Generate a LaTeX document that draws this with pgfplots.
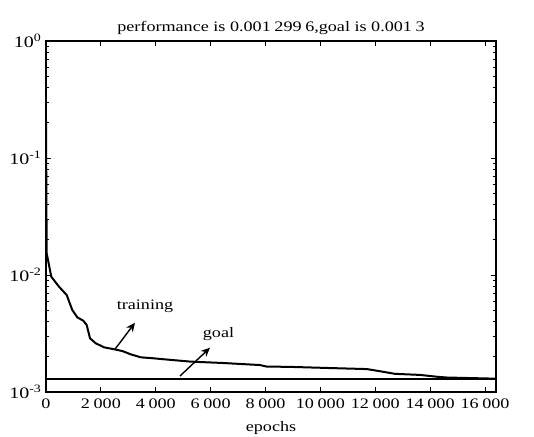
\documentclass[border=0pt]{standalone}
\usepackage{pgfplots}
\pgfplotsset{compat=1.18}
\usepackage{pgfplotstable}
\usetikzlibrary{arrows.meta}
\usepackage{fontspec}
\setmainfont{Liberation Serif}[FakeStretch=1.25]
\pgfplotstableread{
x y
0 0.21
3 0.12
8 0.087
15 0.04
25 0.0153
193 0.00967
474 0.00794
754 0.00675
958 0.00502
1141 0.00435
1359 0.00407
1483 0.00374
1603 0.00288
1811 0.00261
2114 0.00241
2478 0.00232
2780 0.00224
3087 0.00210
3451 0.00198
3936 0.00194
4238 0.00191
5248 0.00182
6450 0.00177
7798 0.00170
8042 0.00165
8892 0.00164
10459 0.00160
11698 0.00157
12281 0.00149
12718 0.00143
13629 0.00140
14248 0.00135
14613 0.00133
16400 0.0013
}\training
\newcommand{\ts}{\hspace{0.25em}}
\newcommand{\fs}{\fontsize{14.5}{16}\selectfont}
\newcommand{\fl}{\fontsize{16}{18}\selectfont}
\begin{document}
\begin{tikzpicture}
\path[use as bounding box] (0,0) rectangle (534pt,436pt);
\begin{axis}[
  at={(46pt,44pt)}, anchor=south west,
  width=450pt, height=351pt, scale only axis,
  ymode=log, xmin=0, xmax=16400, ymin=1e-3, ymax=1,
  scaled x ticks=false,
  xtick={0,2000,4000,6000,8000,10000,12000,14000,16000},
  xticklabels={0,2\ts000,4\ts000,6\ts000,8\ts000,10\ts000,12\ts000,14\ts000,16\ts000},
  ytick={1e-3,1e-2,1e-1,1},
  yticklabels={10\textsuperscript{-3},10\textsuperscript{-2},10\textsuperscript{-1},10\textsuperscript{0}},
  tick align=inside,
  axis line style={line width=1.2pt},
  tick style={black, line width=0.8pt},
  major tick length=5pt, minor tick length=3pt,
  xticklabel style={font=\fs, yshift=-3pt},
  yticklabel style={font=\fl, xshift=-1pt},
  xlabel={epochs},
  xlabel style={font=\fs, at={(axis description cs:0.5,0)}, anchor=north, yshift=-26pt},
  title={performance is 0.001\ts299\ts6,goal is 0.001\ts3},
  title style={font=\fs, yshift=-3pt},
  clip=false,
]
\addplot[black, line width=2pt] table {\training};
\addplot[black, line width=2pt] coordinates {(0,0.0013) (16400,0.0013)};
\node[font=\fs] at (axis cs:3608,0.00543) {training};
\draw[-{Stealth[length=9pt,width=8pt]}, line width=1.4pt] (axis cs:2514,0.00232) -- (axis cs:3243,0.00391);
\node[font=\fs] at (axis cs:6286,0.00313) {goal};
\draw[-{Stealth[length=9pt,width=8pt]}, line width=1.4pt] (axis cs:4883,0.00137) -- (axis cs:5976,0.00239);
\end{axis}
\end{tikzpicture}
\end{document}
